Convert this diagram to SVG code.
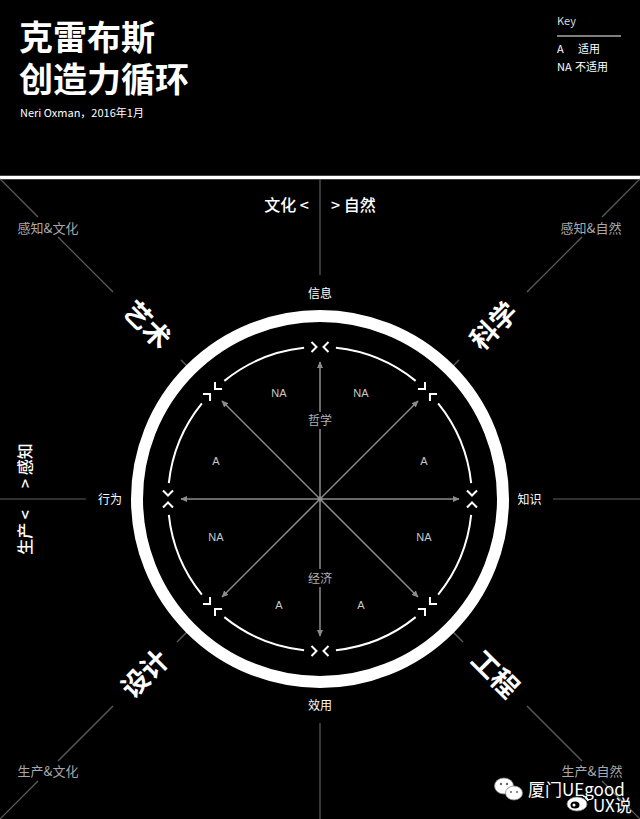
<svg xmlns="http://www.w3.org/2000/svg" xmlns:xlink="http://www.w3.org/1999/xlink" width="640" height="819" viewBox="0 0 640 819">
<style>
text{font-family:"Noto Sans CJK SC","Noto Sans",sans-serif}
.title{fill:#fff;font-size:34px;font-weight:700}
.small{fill:#fff;font-size:11px}
.key{fill:#ddd;font-size:11px}
.axis{fill:#fff;font-size:16px;font-weight:500}
.pole{fill:#fff;font-size:12px}
.diag{fill:#a8a8a8;font-size:13px}
.big{fill:#fff;font-size:27px;font-weight:700}
.cell{fill:#c8c8c8;font-size:11px;font-family:"Liberation Sans","Noto Sans",sans-serif}
.inner{fill:#b0b0b0;font-size:12px}
.outline{stroke:#5e5e5e;stroke-width:1.2;fill:none}
.arrow{stroke:#8c8c8c;stroke-width:1.5;fill:none}
.chev{stroke:#fff;stroke-width:2;fill:none;stroke-linejoin:miter}
.arc{stroke:#fff;stroke-width:2;fill:none}
.wm{fill:#fff;font-size:17px;font-family:"Noto Sans CJK SC","Noto Sans",sans-serif}
</style>
<defs>
<marker id="ah" viewBox="0 0 10 10" refX="9" refY="5" markerUnits="userSpaceOnUse" markerWidth="7" markerHeight="7" orient="auto">
<path d="M0 0.5 L10 5 L0 9.5 z" fill="#8c8c8c"/>
</marker>
<path id="seg" class="arc" d="M335.89 347.83 A152 152 0 0 1 415.66 380.87"/>
<path id="gap" class="chev" d="M311.5 342 L316.5 347 L311.5 352 M328.5 342 L323.5 347 L328.5 352"/>
</defs>
<rect x="0" y="0" width="640" height="819" fill="#000"/>

<g id="header">
<text class="title" x="19" y="50">克雷布斯</text>
<text class="title" x="19" y="92">创造力循环</text>
<text class="small" x="20" y="117">Neri Oxman，2016年1月</text>
</g>
<g id="key">
<text class="key" x="557" y="25" font-size="10">Key</text>
<line x1="557" y1="36" x2="621" y2="36" stroke="#fff" stroke-width="1"/>
<text class="small" x="557" y="53" font-family="Liberation Sans,sans-serif">A</text>
<text class="small" x="578" y="53">适用</text>
<text class="small" x="557" y="71" font-family="Liberation Sans,sans-serif">NA</text>
<text class="small" x="575" y="71">不适用</text>
</g>

<line x1="0" y1="177.5" x2="640" y2="177.5" stroke="#fff" stroke-width="3.5"/>

<g id="connectors">
<line class="outline" x1="320" y1="179" x2="320" y2="275"/>
<line class="outline" x1="320" y1="723" x2="320" y2="819"/>
<line class="outline" x1="0" y1="499" x2="86" y2="499"/>
<line class="outline" x1="553" y1="499" x2="640" y2="499"/>
<line class="outline" x1="0" y1="179" x2="38" y2="217"/>
<line class="outline" x1="58" y1="237" x2="113" y2="292"/>
<line class="outline" x1="181" y1="360" x2="187" y2="366"/>
<line class="outline" x1="640" y1="179" x2="602" y2="217"/>
<line class="outline" x1="582" y1="237" x2="527" y2="292"/>
<line class="outline" x1="459" y1="360" x2="453" y2="366"/>
<line class="outline" x1="187" y1="632" x2="177" y2="642"/>
<line class="outline" x1="113" y1="706" x2="58" y2="761"/>
<line class="outline" x1="38" y1="781" x2="0" y2="819"/>
<line class="outline" x1="453" y1="632" x2="463" y2="642"/>
<line class="outline" x1="527" y1="706" x2="582" y2="761"/>
<line class="outline" x1="602" y1="781" x2="640" y2="819"/>

<line class="arrow" x1="320" y1="499" x2="320" y2="429"/>
<line class="arrow" x1="320" y1="412" x2="320" y2="362" marker-end="url(#ah)"/>
<line class="arrow" x1="320" y1="499" x2="320" y2="569"/>
<line class="arrow" x1="320" y1="587" x2="320" y2="636" marker-end="url(#ah)"/>
<line class="arrow" x1="320" y1="499" x2="181" y2="499" marker-end="url(#ah)"/>
<line class="arrow" x1="320" y1="499" x2="459" y2="499" marker-end="url(#ah)"/>
<line class="arrow" x1="320" y1="499" x2="222" y2="401" marker-end="url(#ah)"/>
<line class="arrow" x1="320" y1="499" x2="418" y2="401" marker-end="url(#ah)"/>
<line class="arrow" x1="320" y1="499" x2="222" y2="597" marker-end="url(#ah)"/>
<line class="arrow" x1="320" y1="499" x2="418" y2="597" marker-end="url(#ah)"/>
<circle cx="320" cy="499" r="2.5" fill="#8c8c8c"/>
</g>

<g id="outer-ring">
<circle cx="320" cy="499" r="183" fill="none" stroke="#fff" stroke-width="12"/>
</g>

<g id="inner-ring">
<use xlink:href="#seg"/>
<use xlink:href="#seg" transform="rotate(45 320 499)"/>
<use xlink:href="#seg" transform="rotate(90 320 499)"/>
<use xlink:href="#seg" transform="rotate(135 320 499)"/>
<use xlink:href="#seg" transform="rotate(180 320 499)"/>
<use xlink:href="#seg" transform="rotate(225 320 499)"/>
<use xlink:href="#seg" transform="rotate(270 320 499)"/>
<use xlink:href="#seg" transform="rotate(315 320 499)"/>
<use xlink:href="#gap"/>
<use xlink:href="#gap" transform="rotate(45 320 499)"/>
<use xlink:href="#gap" transform="rotate(90 320 499)"/>
<use xlink:href="#gap" transform="rotate(135 320 499)"/>
<use xlink:href="#gap" transform="rotate(180 320 499)"/>
<use xlink:href="#gap" transform="rotate(225 320 499)"/>
<use xlink:href="#gap" transform="rotate(270 320 499)"/>
<use xlink:href="#gap" transform="rotate(315 320 499)"/>
</g>

<g id="axis-top">
<text class="axis" x="309" y="210.5" text-anchor="end">文化 &lt;</text>
<text class="axis" x="331" y="210.5">&gt; 自然</text>
</g>
<g id="axis-left">
<text class="axis" transform="translate(31 499) rotate(-90)" x="-11" y="0" text-anchor="end">生产 &lt;</text>
<text class="axis" transform="translate(31 499) rotate(-90)" x="11" y="0">&gt; 感知</text>
</g>

<g id="node-info"><text class="pole" x="320" y="297.5" text-anchor="middle">信息</text></g>
<g id="node-knowledge"><text class="pole" x="529.5" y="503.5" text-anchor="middle">知识</text></g>
<g id="node-utility"><text class="pole" x="320" y="709.5" text-anchor="middle">效用</text></g>
<g id="node-behavior"><text class="pole" x="110" y="503.5" text-anchor="middle">行为</text></g>

<g id="node-art"><text class="big" transform="translate(147 325) rotate(45)" y="9.5" text-anchor="middle">艺术</text></g>
<g id="node-science"><text class="big" transform="translate(494 326) rotate(-45)" y="9.5" text-anchor="middle">科学</text></g>
<g id="node-design"><text class="big" transform="translate(145 674) rotate(-45)" y="9.5" text-anchor="middle">设计</text></g>
<g id="node-engineering"><text class="big" transform="translate(495 674) rotate(45)" y="9.5" text-anchor="middle">工程</text></g>

<g id="corner-labels">
<text class="diag" x="48" y="232.5" text-anchor="middle">感知&amp;文化</text>
<text class="diag" x="591" y="232.5" text-anchor="middle">感知&amp;自然</text>
<text class="diag" x="48" y="775.5" text-anchor="middle">生产&amp;文化</text>
<text class="diag" x="592" y="775.5" text-anchor="middle">生产&amp;自然</text>
</g>

<g id="inner-labels">
<text class="inner" x="320" y="424.5" text-anchor="middle">哲学</text>
<text class="inner" x="320" y="582.5" text-anchor="middle">经济</text>
<text class="cell" x="279" y="397" text-anchor="middle">NA</text>
<text class="cell" x="361" y="397" text-anchor="middle">NA</text>
<text class="cell" x="216" y="465" text-anchor="middle">A</text>
<text class="cell" x="424" y="465" text-anchor="middle">A</text>
<text class="cell" x="216" y="541" text-anchor="middle">NA</text>
<text class="cell" x="424" y="541" text-anchor="middle">NA</text>
<text class="cell" x="279" y="609" text-anchor="middle">A</text>
<text class="cell" x="361" y="609" text-anchor="middle">A</text>
</g>

<g id="watermark">
<ellipse cx="504" cy="786" rx="9.5" ry="8" fill="#fff" stroke="#888" stroke-width="0.8"/>
<ellipse cx="514" cy="793" rx="8.5" ry="7" fill="#fff" stroke="#888" stroke-width="0.8"/>
<circle cx="501" cy="784" r="1.2" fill="#666"/>
<circle cx="507" cy="784" r="1.2" fill="#666"/>
<circle cx="511" cy="792" r="1" fill="#666"/>
<circle cx="517" cy="792" r="1" fill="#666"/>
<text class="wm" x="528" y="796">厦门UEgood</text>
<ellipse cx="577" cy="804" rx="10" ry="7" fill="#fff" stroke="#888" stroke-width="0.8"/>
<ellipse cx="575" cy="805" rx="4.5" ry="3.5" fill="#000"/>
<circle cx="574" cy="805" r="1.5" fill="#fff"/>
<path d="M583 796 A6 6 0 0 1 588 801" stroke="#fff" stroke-width="1.5" fill="none"/>
<text class="wm" x="593" y="812" font-size="16">UX说</text>
</g>
</svg>
